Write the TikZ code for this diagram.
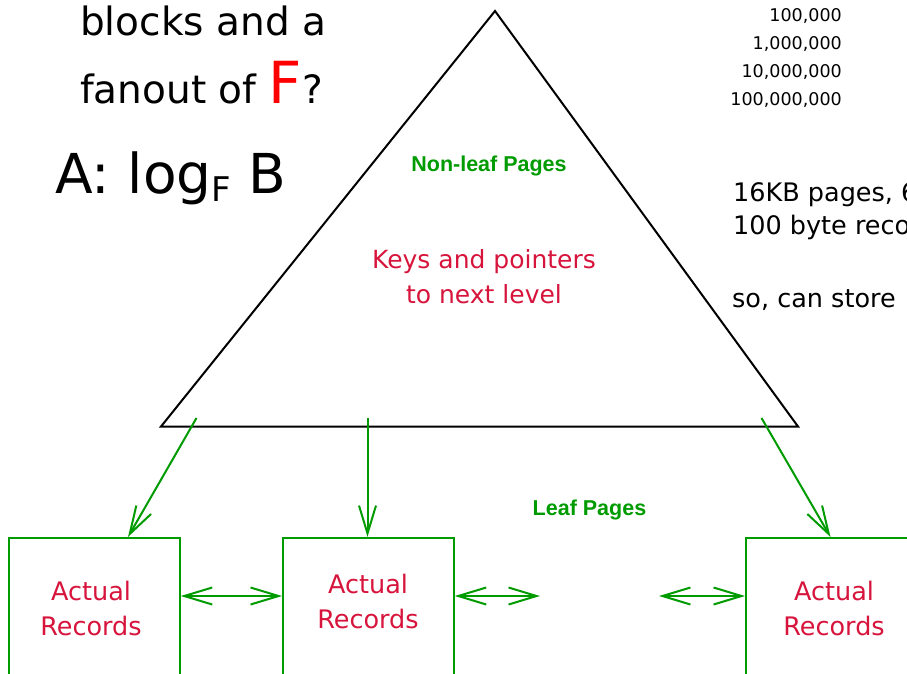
\documentclass[tikz,border=0pt]{standalone}
\usepackage{fontspec}
\setmainfont{DejaVu Sans}
\newfontfamily\arialf{Liberation Sans}
\usetikzlibrary{arrows.meta,calc}
\definecolor{grn}{RGB}{0,155,0}
\definecolor{crim}{RGB}{215,20,60}
\definecolor{redF}{RGB}{255,0,0}
\tikzset{
  fs/.style={font=\fontsize{#1}{#1}\selectfont},
  garrow/.style={draw=grn,line width=2pt,-{Straight Barb[length=28pt,width=17pt]}},
  gdbl/.style={draw=grn,line width=2pt,{Straight Barb[length=28pt,width=17pt]}-{Straight Barb[length=28pt,width=17pt]}},
  leafbox/.style={draw=grn,line width=1.8pt,minimum width=171pt,minimum height=200pt,anchor=north west,inner sep=0pt},
  rec/.style={text=crim,fs=25.5,align=center,anchor=base},
  bt/.style={anchor=base west,inner sep=0pt},
  num/.style={anchor=base east,inner sep=0pt,fs=17.5},
  glabel/.style={text=grn,font=\arialf\bfseries\fontsize{21.5}{22}\selectfont,anchor=base,inner sep=0pt}
}
\begin{document}
\begin{tikzpicture}[x=1pt,y=-1pt]
\useasboundingbox (0,0) rectangle (907,673);
\clip (0,0) rectangle (907,673);
% question text
\node[bt,fs=39] (q1) at (80,35) {blocks and a};
\node[bt,fs=39] (q2) at (80,103) {fanout of {\color{redF}\fontsize{58}{58}\selectfont F}?};
\node[bt,fs=55] (ans) at (55,193) {A: log\raisebox{-8pt}{\fontsize{34}{34}\selectfont F} B};
% numbers
\node[num] (n1) at (842,21) {100,000};
\node[num] (n2) at (842,49) {1,000,000};
\node[num] (n3) at (842,77) {10,000,000};
\node[num] (n4) at (842,105) {100,000,000};
% right text
\node[bt,fs=25.5] (t1) at (733,201) {16KB pages, 6};
\node[bt,fs=25.5] (t2) at (733,234) {100 byte reco};
\node[bt,fs=25.5] (t3) at (732,307) {so, can store};
% triangle
\coordinate (apex) at (495,11);
\coordinate (bl) at (161,426.5);
\coordinate (br) at (798,426.5);
\draw[line width=2pt,line join=miter] (apex) -- (bl) -- (br) -- cycle;
\node[glabel] (nonleaf) at (489,171.5) {Non-leaf Pages};
\node[rec,fs=25] (k1) at (484,268) {Keys and pointers};
\node[rec,fs=25] (k2) at (484,303) {to next level};
% leaf boxes
\node[leafbox] (box1) at (8,537) {};
\node[leafbox] (box2) at (282,537) {};
\node[leafbox] (box3) at (745,537) {};
\node[rec] (a1) at (91,600) {Actual};
\node[rec] (r1) at (91,635) {Records};
\node[rec] (a2) at (368,593) {Actual};
\node[rec] (r2) at (368,628) {Records};
\node[rec] (a3) at (834,600) {Actual};
\node[rec] (r3) at (834,635) {Records};
\node[glabel] (leaf) at (589.5,515) {Leaf Pages};
% down arrows
\coordinate (s1) at (196.5,418);
\coordinate (s2) at (367.5,418);
\coordinate (s3) at (761.5,418);
\coordinate (e1) at (128,537);
\coordinate (e3) at (830.5,537);
\draw[garrow] (s1) -- (e1);
\draw[garrow] (s2) -- (s2 |- box2.north);
\draw[garrow] (s3) -- (e3);
% horizontal double arrows
\coordinate (mid) at (0,596);
\coordinate (f1) at (540,596);
\coordinate (f2) at (659,596);
\draw[gdbl] (box1.north east |- mid) -- (box2.north west |- mid);
\draw[gdbl] (box2.north east |- mid) -- (f1);
\draw[gdbl] (f2) -- (box3.north west |- mid);
\end{tikzpicture}
\end{document}
